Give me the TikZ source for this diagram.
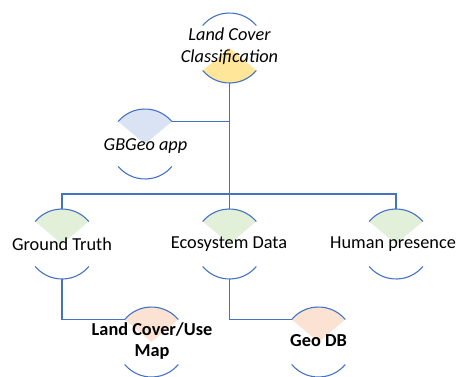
\documentclass[tikz,border=0pt]{standalone}
\usepackage{fontspec}
\setmainfont{Carlito}
\definecolor{lineblue}{HTML}{4472C4}
\definecolor{fyellow}{HTML}{FFE699}
\definecolor{fblue}{HTML}{DAE3F3}
\definecolor{fgreen}{HTML}{E2F0D9}
\definecolor{fpeach}{HTML}{FBE2D2}
\tikzset{
  ring/.style={circle, minimum size=70pt, inner sep=0pt, outer sep=0pt},
  lbl/.style={inner sep=0pt, align=center, font=\fontsize{18.3}{21}\selectfont, text=black},
  conn/.style={draw=lineblue, line width=1.1pt},
}
\newcommand{\arcsof}[1]{%
  \draw[conn] (#1.40) arc[start angle=40, end angle=140, radius=35pt];
  \draw[conn] (#1.220) arc[start angle=220, end angle=320, radius=35pt];}
\newcommand{\topwedge}[2]{%
  \fill[#2] (#1.center) -- (#1.40) arc[start angle=40, end angle=140, radius=35pt] -- cycle;}
\newcommand{\botwedge}[2]{%
  \fill[#2] (#1.center) -- (#1.220) arc[start angle=220, end angle=320, radius=35pt] -- cycle;}
\begin{document}
\begin{tikzpicture}[x=1pt, y=-1pt]
\useasboundingbox (0,0) rectangle (459,376);
\fill[white] (0,0) rectangle (459,376);
% geometry nodes
\node[ring] (lcc) at (229.5,48) {};
\node[ring] (gb)  at (145,144) {};
\node[ring] (gt)  at (62,244) {};
\node[ring] (ed)  at (229.5,244) {};
\node[ring] (hp)  at (396,244) {};
\node[ring] (lcm) at (151.5,342) {};
\node[ring] (gdb) at (318.5,342) {};
\coordinate (bus) at (229.5,194);
% fills
\botwedge{lcc}{fyellow}
\topwedge{gb}{fblue}
\topwedge{gt}{fgreen}
\topwedge{ed}{fgreen}
\topwedge{hp}{fgreen}
\topwedge{lcm}{fpeach}
\topwedge{gdb}{fpeach}
% arcs
\arcsof{lcc}\arcsof{gb}\arcsof{gt}\arcsof{ed}\arcsof{hp}\arcsof{lcm}\arcsof{gdb}
% connectors
\draw[conn] (lcc.south) -- (lcc.south |- bus);
\draw[conn] (gt.north) -- (gt.north |- bus) -- (hp.north |- bus) -- (hp.north);
\draw[conn] (ed.north) -- (ed.north |- bus);
\draw[conn] (gb.40) -- (gb.40 -| lcc.south);
\draw[conn] (gt.south) -- (gt.south |- lcm.140) -- (lcm.140);
\draw[conn] (ed.south) -- (ed.south |- gdb.140) -- (gdb.140);
% texts
\node[lbl, font=\fontsize{18.3}{21.5}\selectfont\itshape] (lccT) at (229.5,46) {Land Cover\\Classification};
\node[lbl, font=\fontsize{18.3}{21}\selectfont\itshape] (gbT) at (145.5,146) {GBGeo app};
\node[lbl] (gtT) at (62,244) {Ground Truth};
\node[lbl] (edT) at (229,244) {Ecosystem Data};
\node[lbl] (hpT) at (393,244) {Human presence};
\node[lbl, font=\fontsize{18.3}{20.5}\selectfont\bfseries] (lcmT) at (152,341) {Land Cover/Use\\Map};
\node[lbl, font=\fontsize{18.3}{21}\selectfont\bfseries] (gdbT) at (318.5,341) {Geo DB};
\end{tikzpicture}
\end{document}
